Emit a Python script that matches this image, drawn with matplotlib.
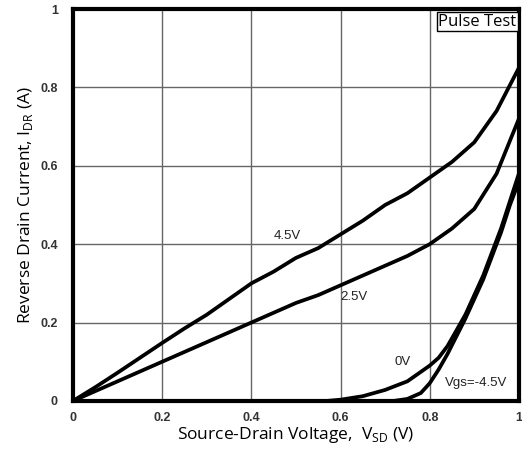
import numpy as np
import matplotlib.pyplot as plt

# Reverse drain current vs source-drain voltage for several gate voltages
vsd_45 = [0, 0.05, 0.1, 0.15, 0.2, 0.25, 0.3, 0.35, 0.4, 0.45, 0.5, 0.55, 0.6,
          0.65, 0.7, 0.75, 0.8, 0.85, 0.9, 0.95, 1.0]
idr_45 = [0, 0.035, 0.072, 0.11, 0.148, 0.185, 0.22, 0.26, 0.30, 0.33, 0.365,
          0.39, 0.425, 0.46, 0.50, 0.53, 0.57, 0.61, 0.66, 0.74, 0.85]

vsd_25 = vsd_45
idr_25 = [0, 0.025, 0.05, 0.075, 0.10, 0.125, 0.15, 0.175, 0.20, 0.225, 0.25,
          0.27, 0.295, 0.32, 0.345, 0.37, 0.40, 0.44, 0.49, 0.58, 0.72]

vsd_0 = [0.57, 0.6, 0.65, 0.7, 0.75, 0.8, 0.82, 0.84, 0.86, 0.88, 0.9, 0.92,
         0.94, 0.96, 0.98, 1.0]
idr_0 = [0, 0.003, 0.012, 0.028, 0.05, 0.09, 0.11, 0.14, 0.18, 0.22, 0.27,
         0.32, 0.38, 0.44, 0.51, 0.58]

vsd_m45 = [0.72, 0.75, 0.78, 0.8, 0.82, 0.84, 0.86, 0.88, 0.9, 0.92, 0.94,
           0.96, 0.98, 1.0]
idr_m45 = [0, 0.005, 0.02, 0.045, 0.08, 0.12, 0.165, 0.21, 0.26, 0.31, 0.37,
           0.43, 0.5, 0.56]

curves = [(vsd_45, idr_45), (vsd_25, idr_25), (vsd_0, idr_0), (vsd_m45, idr_m45)]
curve_labels = ["4.5V", "2.5V", "0V", "Vgs=-4.5V"]
label_pos = [(0.48, 0.42), (0.63, 0.265), (0.74, 0.10), (0.905, 0.045)]

ticks = [0, 0.2, 0.4, 0.6, 0.8, 1]
tick_labels = ["0", "0.2", "0.4", "0.6", "0.8", "1"]

fig = plt.figure(figsize=(5.22, 4.54), dpi=100)
ax = fig.add_axes([0.140, 0.117, 0.854, 0.863])

for x, y in curves:
    ax.plot(x, y, color="black", lw=2.7, solid_capstyle="round")

for txt, (tx, ty) in zip(curve_labels, label_pos):
    ax.text(tx, ty, txt, fontsize=9.5, family="Liberation Sans",
            ha="center", va="center", color="#222222")

ax.set_xlim(0, 1)
ax.set_ylim(0, 1)
ax.set_xticks(ticks)
ax.set_yticks(ticks)
ax.set_xticklabels(tick_labels, family="Liberation Sans", fontsize=9, fontweight="bold", color="#333333")
ax.set_yticklabels(tick_labels, family="Liberation Sans", fontsize=9, fontweight="bold", color="#333333")
ax.tick_params(axis="y", length=0, pad=11)
ax.tick_params(axis="x", length=0, pad=8)
ax.grid(True, color="#666666", lw=1.0)
for s in ax.spines.values():
    s.set_linewidth(3)
    s.set_color("black")

ax.set_xlabel("Source-Drain Voltage,  V$_{\\mathregular{SD}}$ (V)", family="Open Sans", fontsize=12.5, labelpad=1)
ax.set_ylabel("Reverse Drain Current, I$_{\\mathregular{DR}}$ (A)", family="Open Sans", fontsize=12.5, labelpad=4)

ax.text(0.994, 0.988, "Pulse Test", transform=ax.transAxes, ha="right", va="top",
        family="Open Sans", fontsize=12,
        bbox=dict(boxstyle="square,pad=0.08", fc="white", ec="black", lw=1))

fig.savefig("out.png", dpi=100)
